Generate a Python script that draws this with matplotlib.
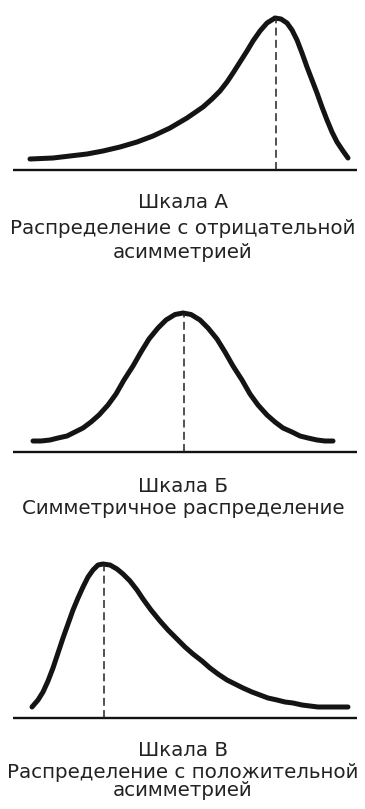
import matplotlib
matplotlib.use("Agg")
import matplotlib.pyplot as plt

W, H = 365, 809

# Curve data: position on the scale and height above the baseline
a_x = [30, 53, 70, 87, 103, 120, 137, 153, 170, 187, 203, 212, 220, 227, 233, 240, 247,
       253, 260, 267, 275, 281, 287, 292, 297, 302, 307, 312, 317, 322, 327, 332, 337, 343, 348]
a_y = [11, 12, 14, 16, 19, 23, 28, 34, 42, 52, 63, 71, 79, 88, 97, 108, 119,
       129, 139, 147, 152, 151, 147, 140, 130, 117, 103, 90, 77, 63, 50, 38, 28, 19, 12]
a_mode = 276

b_x = [33, 41, 50, 58, 67, 75, 83, 91, 99, 108, 116, 124, 133, 141, 149, 158, 166, 175, 183,
       191, 200, 208, 217, 225, 233, 242, 250, 258, 267, 275, 283, 292, 300, 308, 317, 325, 333]
b_y = [11, 11, 12, 14, 16, 20, 24, 30, 37, 47, 58, 72, 86, 100, 113, 124, 132, 137.5, 139,
       137.5, 132, 124, 113, 100, 86, 72, 58, 47, 37, 30, 24, 20, 16, 14, 12, 11, 11]
b_mode = 184

c_x = [32, 38, 43, 48, 53, 58, 63, 68, 73, 78, 83, 88, 93, 98, 103, 110, 117, 123, 130,
       137, 143, 151, 160, 168, 177, 185, 193, 202, 210, 218, 227, 235, 243, 252, 260,
       268, 277, 285, 293, 302, 310, 318, 327, 338, 348]
c_y = [11, 18, 26, 37, 50, 65, 80, 94, 108, 120, 131, 141, 148, 153, 154, 153, 149, 144, 137,
       128, 119, 108, 97, 88, 79, 71, 64, 57, 50, 44, 38, 34, 30, 26, 23,
       20, 18, 16, 15, 13, 12, 11, 11, 11, 11]
c_mode = 104

titles = ["Шкала А", "Шкала Б", "Шкала В"]
subtitles = [["Распределение с отрицательной", "асимметрией"],
             ["Симметричное распределение"],
             ["Распределение с положительной", "асимметрией"]]

panels = [
    dict(x=a_x, y=a_y, mode=a_mode, base=170, top=5, bottom=180, text_y=[203, 228, 252]),
    dict(x=b_x, y=b_y, mode=b_mode, base=452, top=290, bottom=462, text_y=[487, 509]),
    dict(x=c_x, y=c_y, mode=c_mode, base=718, top=545, bottom=728, text_y=[750, 772, 791]),
]

fig = plt.figure(figsize=(W / 100, H / 100), dpi=100)
fig.patch.set_facecolor("white")

for i, p in enumerate(panels):
    ax = fig.add_axes([0, 1 - p["bottom"] / H, 1, (p["bottom"] - p["top"]) / H])
    ax.set_xlim(0, W)
    ax.set_ylim(p["base"] - p["bottom"], p["base"] - p["top"])
    ax.axis("off")
    ax.plot(p["x"], p["y"], color="#141414", lw=3.6, solid_capstyle="round",
            solid_joinstyle="round")
    ax.plot([13, 357], [0, 0], color="#111111", lw=1.7, solid_capstyle="butt")
    peak = max(p["y"])
    ax.plot([p["mode"], p["mode"]], [0, peak], color="#222222", lw=1.1,
            dashes=(5.2, 2.8))
    lines = [titles[i]] + subtitles[i]
    for txt, ty in zip(lines, p["text_y"]):
        fig.text(183 / W, 1 - ty / H, txt, ha="center", va="center",
                 fontsize=14.3, color="#222222", family="DejaVu Sans")

fig.savefig("out.png", dpi=100, facecolor="white")
